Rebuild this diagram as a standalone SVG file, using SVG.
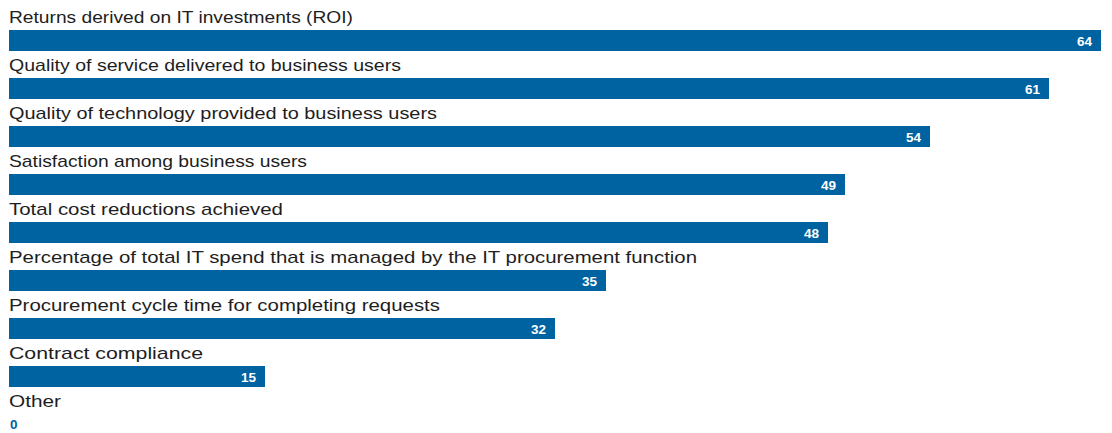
<svg xmlns="http://www.w3.org/2000/svg" width="1112" height="433" viewBox="0 0 1112 433">
<style>
.lbl{font-family:"Liberation Sans",Arial,sans-serif;font-size:17px;fill:#1e1e1e}
.bar{fill:#0063a1}
.val{font-family:"Liberation Sans",Arial,sans-serif;font-size:13.5px;font-weight:bold;fill:#ffffff;text-anchor:end}
.val0{font-family:"Liberation Sans",Arial,sans-serif;font-size:13.5px;font-weight:bold;fill:#0063a1}
</style>
<rect width="1112" height="433" fill="#ffffff"/>
<g id="row1"><text class="lbl" x="9" y="23" textLength="344" lengthAdjust="spacingAndGlyphs">Returns derived on IT investments (ROI)</text><rect class="bar" x="9" y="30" width="1092" height="21"/><text class="val" x="1092" y="45.5">64</text></g>
<g id="row2"><text class="lbl" x="9" y="71" textLength="392" lengthAdjust="spacingAndGlyphs">Quality of service delivered to business users</text><rect class="bar" x="9" y="78" width="1040" height="21"/><text class="val" x="1040" y="93.5">61</text></g>
<g id="row3"><text class="lbl" x="9" y="119" textLength="428" lengthAdjust="spacingAndGlyphs">Quality of technology provided to business users</text><rect class="bar" x="9" y="126" width="921" height="21"/><text class="val" x="921" y="141.5">54</text></g>
<g id="row4"><text class="lbl" x="9" y="167" textLength="298" lengthAdjust="spacingAndGlyphs">Satisfaction among business users</text><rect class="bar" x="9" y="174" width="836" height="21"/><text class="val" x="836" y="189.5">49</text></g>
<g id="row5"><text class="lbl" x="9" y="215" textLength="274" lengthAdjust="spacingAndGlyphs">Total cost reductions achieved</text><rect class="bar" x="9" y="222" width="819" height="21"/><text class="val" x="819" y="237.5">48</text></g>
<g id="row6"><text class="lbl" x="9" y="263" textLength="688" lengthAdjust="spacingAndGlyphs">Percentage of total IT spend that is managed by the IT procurement function</text><rect class="bar" x="9" y="270" width="597" height="21"/><text class="val" x="597" y="285.5">35</text></g>
<g id="row7"><text class="lbl" x="9" y="311" textLength="431" lengthAdjust="spacingAndGlyphs">Procurement cycle time for completing requests</text><rect class="bar" x="9" y="318" width="546" height="21"/><text class="val" x="546" y="333.5">32</text></g>
<g id="row8"><text class="lbl" x="9" y="359" textLength="194" lengthAdjust="spacingAndGlyphs">Contract compliance</text><rect class="bar" x="9" y="366" width="256" height="21"/><text class="val" x="256" y="381.5">15</text></g>
<g id="row9"><text class="lbl" x="9" y="407" textLength="52" lengthAdjust="spacingAndGlyphs">Other</text><text class="val0" x="10" y="429">0</text></g>
<g id="connectors"/>
</svg>
